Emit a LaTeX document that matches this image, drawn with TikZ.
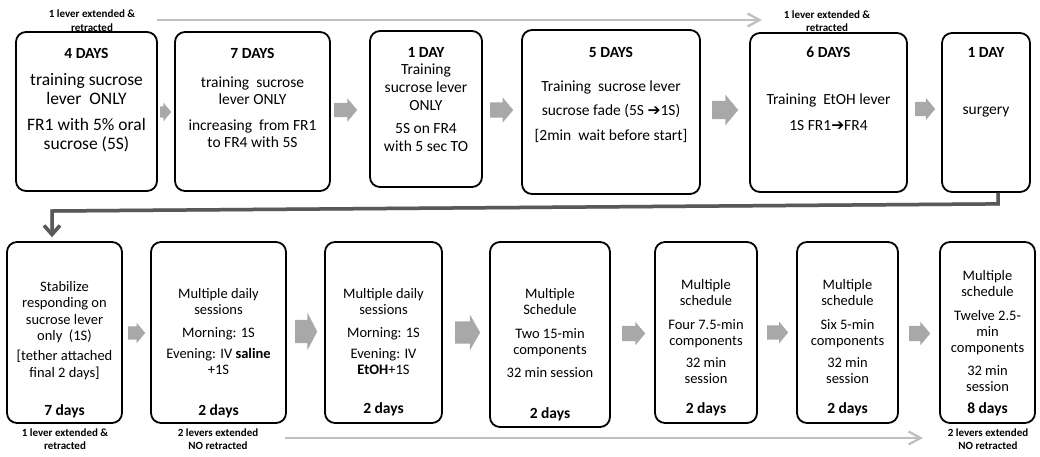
\documentclass[tikz,border=0pt]{standalone}
\usepackage{fontspec}
\setmainfont{Carlito}
\newfontfamily\arrowfont{DejaVu Sans}
\usetikzlibrary{positioning,shapes.arrows,arrows.meta}
\definecolor{blockgray}{RGB}{168,168,168}
\definecolor{levergray}{RGB}{192,192,192}
\definecolor{pathgray}{RGB}{89,89,89}
\definecolor{shadegray}{RGB}{185,185,185}
\newcommand{\fs}[2]{\fontsize{#1}{#2}\selectfont}
\newcommand{\fadearrow}{{\arrowfont ➔}}

\begin{document}
\begin{tikzpicture}[x=1pt,y=-1pt,
		stage/.style={draw,line width=1.8pt,rounded corners=10pt,inner sep=0pt},
		dayhead/.style={font=\bfseries\fs{15.5}{17},inner sep=0pt},
		boxtext/.style={align=center,inner sep=0pt,font=\fs{15.5}{17.5}},
		lowtext/.style={align=center,inner sep=0pt,font=\fs{14.5}{16}},
		daycount/.style={font=\bfseries\fs{15.5}{18},inner sep=0pt},
		note/.style={align=center,inner sep=0pt,font=\bfseries\fs{11}{13.5}},
		push/.style n args={3}{single arrow,fill=blockgray,draw=none,inner sep=0pt,
			single arrow tip angle=100,anchor=tail,minimum width=0pt,
			minimum height=#1,inner ysep=#2,single arrow head extend=#3},
		lever/.style={levergray,line width=2.3pt,-{Straight Barb[length=12pt,width=13pt]}},
		route/.style={pathgray,line width=3.5pt,shorten >=4pt,-{Straight Barb[length=9pt,width=16pt]}}
	]
	\useasboundingbox (0,0) rectangle (1040,456);

	% top row
	\node[stage,minimum width=141pt,minimum height=159pt] (t1) at (86.5,111.5) {};
	\node[dayhead] (t1h) at (86.5,53) {4 DAYS};
	\node[boxtext,font=\fs{17.5}{19}] (t1x) at (86.5,112.5)
		{training sucrose\\lever~ ONLY\\[7pt]FR1 with 5\% oral\\sucrose (5S)};

	\node[stage,minimum width=155pt,minimum height=159pt] (t2) at (252.5,111.5) {};
	\node[dayhead] (t2h) at (252.5,53) {7 DAYS};
	\node[boxtext,font=\fs{15.5}{17}] (t2x) at (252.5,112)
		{training~ sucrose\\lever ONLY\\[9pt]increasing~ from FR1\\to FR4 with 5S};

	\node[stage,minimum width=112pt,minimum height=156pt] (t3) at (426,109) {};
	\node[dayhead] (t3h) at (426,52) {1 DAY};
	\node[boxtext,font=\fs{15.5}{18}] (t3x) at (426,107.5)
		{Training\\sucrose lever\\ONLY\\[5pt]5S on FR4\\with 5 sec TO};

	\node[stage,minimum width=178pt,minimum height=164pt] (t4) at (611,112) {};
	\node[dayhead] (t4h) at (611,52) {5 DAYS};
	\node[boxtext,font=\fs{15.5}{24.5}] (t4x) at (611,111.5)
		{Training~ sucrose lever\\sucrose fade (5S \fadearrow1S)\\{[}2min~ wait before start{]}};

	\node[stage,minimum width=157pt,minimum height=159pt] (t5) at (828.5,112.5) {};
	\node[dayhead] (t5h) at (828.5,52) {6 DAYS};
	\node[boxtext,font=\fs{15.5}{26}] (t5x) at (828.5,112)
		{Training~ EtOH lever\\1S FR1\fadearrow FR4};

	\node[stage,minimum width=88pt,minimum height=159pt] (t6) at (986,112.5) {};
	\node[dayhead] (t6h) at (986,52) {1 DAY};
	\node[boxtext] (t6x) at (986,112) {surgery};

	% block arrows, top
	\node[push={11pt}{5.5pt}{3.5pt}] (a1) at (160,112) {};
	\node[push={23pt}{7pt}{4.5pt}] (a2) at (334,110) {};
	\node[push={23pt}{7.5pt}{5pt}] (a3) at (490,110) {};
	\node[push={26pt}{9pt}{6pt}] (a4) at (712,110) {};
	\node[push={20pt}{7pt}{4pt}] (a5) at (915,109) {};

	% bottom row
	\node[stage,minimum width=115pt,minimum height=181pt] (b1) at (64.5,332.5) {};
	\node[lowtext,font=\fs{14.5}{16.3}] (b1x) at (64.5,330.5)
		{Stabilize\\responding on\\sucrose lever\\only~ (1S)\\[4pt]{[}tether attached\\final 2 days{]}};
	\node[daycount] (b1d) at (64.5,411) {7 days};

	\node[stage,minimum width=135pt,minimum height=181pt] (b2) at (218.5,332.5) {};
	\node[lowtext] (b2x) at (218.5,331.5)
		{Multiple daily\\sessions\\[7pt]Morning: 1S\\[5pt]Evening: IV \textbf{saline}\\+1S};
	\node[daycount] (b2d) at (218.5,411) {2 days};

	\node[stage,minimum width=117pt,minimum height=181pt] (b3) at (383.5,332.5) {};
	\node[lowtext] (b3x) at (383.5,331.5)
		{Multiple daily\\sessions\\[7pt]Morning: 1S\\[5pt]Evening: IV\\\textbf{EtOH}+1S};
	\node[daycount] (b3d) at (383.5,409) {2 days};

	\node[stage,minimum width=120pt,minimum height=185pt] (b4) at (550,334.5) {};
	\node[lowtext] (b4x) at (550,333.5)
		{Multiple\\Schedule\\[8pt]Two 15-min\\components\\[7pt]32 min session};
	\node[daycount] (b4d) at (550,414) {2 days};

	\node[stage,minimum width=102pt,minimum height=181pt] (b5) at (706,332.5) {};
	\node[lowtext] (b5x) at (706,331.5)
		{Multiple\\schedule\\[8pt]Four 7.5-min\\components\\[6pt]32 min\\session};
	\node[daycount] (b5d) at (706,409) {2 days};

	\node[stage,minimum width=101pt,minimum height=181pt] (b6) at (847.5,332.5) {};
	\node[lowtext] (b6x) at (847.5,331.5)
		{Multiple\\schedule\\[8pt]Six 5-min\\components\\[6pt]32 min\\session};
	\node[daycount] (b6d) at (847.5,409) {2 days};

	\node[stage,minimum width=95pt,minimum height=181pt] (b7) at (987.5,332.5) {};
	\node[lowtext] (b7x) at (987.5,331)
		{Multiple\\schedule\\[8pt]Twelve 2.5-\\min\\components\\[7pt]32 min\\session};
	\node[daycount] (b7d) at (987.5,409) {8 days};

	% block arrows, bottom
	\node[push={17pt}{6.5pt}{3.5pt}] (c1) at (128,333) {};
	\node[push={22pt}{11.5pt}{7pt},single arrow tip angle=125] (c2) at (295,331.5) {};
	\node[push={25pt}{11pt}{6.5pt},single arrow tip angle=120] (c3) at (455,332.5) {};
	\node[push={23pt}{7.5pt}{4pt}] (c4) at (622,333.5) {};
	\node[push={21pt}{7pt}{3.5pt}] (c5) at (767,332.5) {};
	\node[push={21pt}{7.5pt}{4pt}] (c6) at (909,333.5) {};

	% lever notes
	\node[note] (n1) at (92,20.5) {1 lever extended \&\\retracted};
	\node[note] (n2) at (827,21) {1 lever extended \&\\retracted};
	\node[note] (n3) at (65,439) {1 lever extended \&\\retracted};
	\node[note] (n4) at (218,439) {2 levers extended\\NO retracted};
	\node[note] (n5) at (988,439) {2 levers extended\\NO retracted};

	\coordinate (lvA) at (157,20);
	\coordinate (lvB) at (762,20);
	\coordinate (lvC) at (285,438);
	\coordinate (lvD) at (923,438);
	\draw[lever] (lvA) -- (lvB);
	\draw[lever] (lvC) -- (lvD);

	% from surgery back to the second row
	\coordinate (bend) at (52,211);
	\draw[route,shadegray,xshift=1.5pt,yshift=-1.5pt]
		([xshift=12pt]t6.south) -- ++(0,11) -- (bend) -- ([xshift=-12.5pt]b1.north);
	\draw[route]
		([xshift=12pt]t6.south) -- ++(0,11) -- (bend) -- ([xshift=-12.5pt]b1.north);
\end{tikzpicture}
\end{document}
